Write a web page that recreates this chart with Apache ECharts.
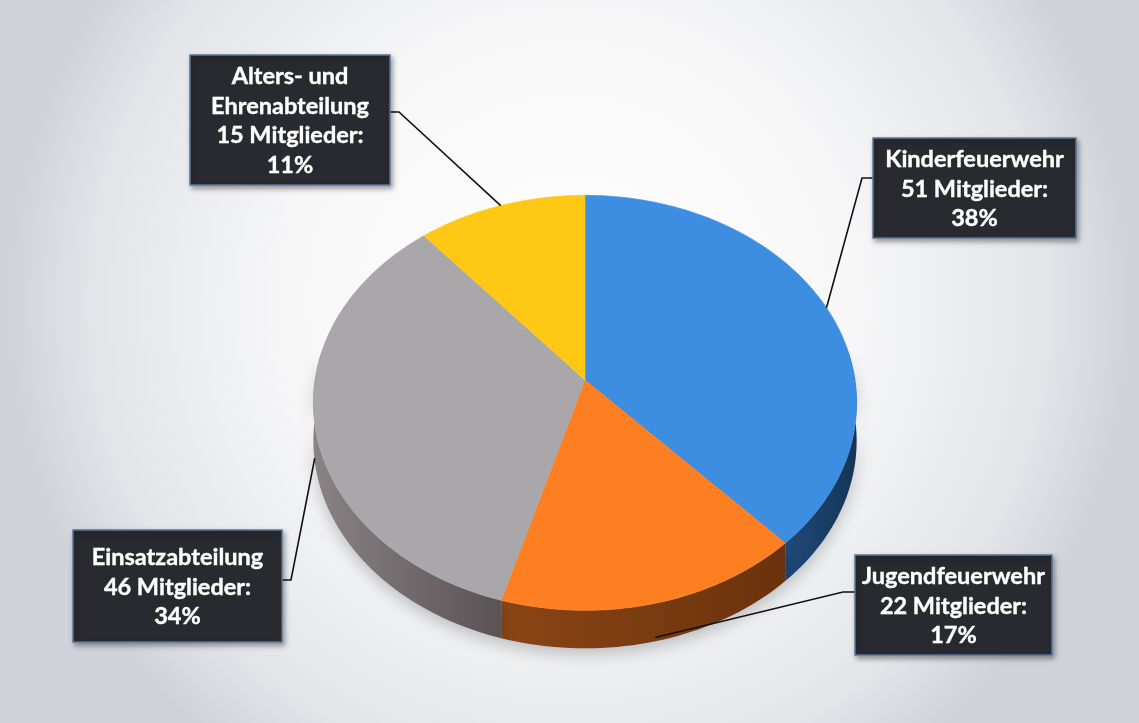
<!DOCTYPE html>
<html lang="de">
<head>
<meta charset="utf-8">
<title>Mitglieder nach Abteilung</title>
<script src="https://cdn.jsdelivr.net/npm/echarts@6/dist/echarts.min.js"></script>
<style>
  html, body { margin: 0; padding: 0; }
  #chart { width: 1139px; height: 723px; }
</style>
</head>
<body>
<div id="chart"></div>
<script>
// Abteilungen (clockwise from 12 o'clock)
const categories = ['Kinderfeuerwehr', 'Jugendfeuerwehr', 'Einsatzabteilung', 'Alters- und\nEhrenabteilung'];
const members = [51, 22, 46, 15];
const shareLabels = ['38%', '17%', '34%', '11%'];

// Palette: top faces and darker side walls
const topColors = ['#3d8ee0', '#fd7f21', '#a9a7a9', '#fec815'];
const sideColors = [['#20497a', '#143556'], ['#8a4515', '#6a320c'], ['#8a8385', '#5a5254'], ['#b08a0c', '#8a6a06']];

// Tilted disc geometry
const CX = 585, CY = 380, RX = 270, RY = 205, P = 0.11, DEPTH = 38;
const START = -90;
const total = members.reduce((a, b) => a + b, 0);
const starts = [];
members.reduce((acc, v, i) => { starts[i] = acc; return acc + v; }, 0);

function angles(i) {
  const a1 = START + 360 * starts[i] / total;
  const a2 = a1 + 360 * members[i] / total;
  return [a1, a2];
}

// Project a point of the unit disc (angle in degrees, radius 0..1) with mild perspective
function proj(deg, r, dy) {
  const t = deg * Math.PI / 180;
  const u = r * Math.cos(t), v = r * Math.sin(t);
  const d = 1 - P * v;
  return [CX + RX * u / d, CY + RY * v / d + (dy || 0)];
}

function arc(a1, a2, dy) {
  const pts = [];
  const n = Math.max(2, Math.ceil(Math.abs(a2 - a1) / 1.5));
  for (let k = 0; k <= n; k++) pts.push(proj(a1 + (a2 - a1) * k / n, 1, dy));
  return pts;
}

// Label boxes and leader-line elbows
const labelLayout = [
  { box: [873, 138, 203, 100], elbow: [862, 178], join: [873, 178] },
  { box: [855, 555, 197, 100], elbow: [843, 592], join: [855, 592] },
  { box: [73, 530, 209, 112], elbow: [291, 580], join: [282, 580] },
  { box: [190, 55, 200, 130], elbow: [399, 112], join: [390, 112] }
];

const seriesData = members.map((v, i) => ({ name: categories[i], value: v }));

// Side walls: only the front-facing part of the rim
function renderSide(params, api) {
  const i = params.dataIndex;
  const [a1, a2] = angles(i);
  const parts = [];
  [[Math.max(a1, -8), Math.min(a2, 188)], [Math.max(a1, 352) - 360, Math.min(a2, 548) - 360]].forEach(([s, e]) => {
    if (e <= s) return;
    const top = arc(s, e, 0);
    const bottom = arc(s, e, DEPTH).reverse();
    parts.push({
      type: 'polygon',
      shape: { points: top.concat(bottom) },
      style: {
        fill: new echarts.graphic.LinearGradient(0, 0, 1, 0, [
          { offset: 0, color: sideColors[i][0] },
          { offset: 1, color: sideColors[i][1] }
        ]),
        shadowBlur: 16,
        shadowOffsetY: 6,
        shadowColor: 'rgba(0,0,0,0.22)'
      }
    });
  });
  return { type: 'group', children: parts };
}

function renderTop(params, api) {
  const i = params.dataIndex;
  const [a1, a2] = angles(i);
  const pts = [[CX, CY]].concat(arc(a1, a2, 0));
  return {
    type: 'polygon',
    shape: { points: pts },
    style: { fill: topColors[i], stroke: topColors[i], lineWidth: 0.6 }
  };
}

function renderLabel(params, api) {
  const i = params.dataIndex;
  const [a1, a2] = angles(i);
  const mid = (a1 + a2) / 2;
  const front = Math.sin(mid * Math.PI / 180) > 0;
  const anchor = proj(mid, 1, front ? DEPTH * 0.9 : 0);
  const L = labelLayout[i];
  const [bx, by, bw, bh] = L.box;
  const text = categories[i] + '\n' + api.value(0) + ' Mitglieder:\n' + shareLabels[i];
  return {
    type: 'group',
    children: [
      {
        type: 'polyline',
        shape: { points: [anchor, L.elbow, L.join] },
        style: { stroke: '#111', lineWidth: 1.6, fill: null }
      },
      {
        type: 'rect',
        shape: { x: bx, y: by, width: bw, height: bh },
        style: {
          fill: '#292a2f', stroke: '#56789f', lineWidth: 1.5,
          shadowBlur: 5, shadowOffsetX: 2, shadowOffsetY: 3, shadowColor: 'rgba(0,0,0,0.35)'
        }
      },
      {
        type: 'text',
        x: bx + bw / 2,
        y: by + bh / 2 + 1,
        style: {
          text: text,
          fill: '#ffffff',
          stroke: '#ffffff',
          lineWidth: 0.4,
          font: 'bold 23.5px Lato, "Open Sans", sans-serif',
          align: 'center',
          verticalAlign: 'middle',
          lineHeight: 29.5
        }
      }
    ]
  };
}

const chart = echarts.init(document.getElementById('chart'), null, { renderer: 'canvas' });
chart.setOption({
  animation: false,
  backgroundColor: {
    type: 'radial', x: 0.5, y: 0.42, r: 0.78,
    colorStops: [
      { offset: 0, color: '#ffffff' },
      { offset: 0.5, color: '#f7f7f8' },
      { offset: 0.85, color: '#e2e4e8' },
      { offset: 1, color: '#cfd2d8' }
    ]
  },
  series: [
    { type: 'custom', coordinateSystem: 'none', z: 1, data: seriesData, renderItem: renderSide, silent: true },
    { type: 'custom', coordinateSystem: 'none', z: 2, data: seriesData, renderItem: renderTop, silent: true },
    { type: 'custom', coordinateSystem: 'none', z: 3, data: seriesData, renderItem: renderLabel, silent: true }
  ]
});
</script>
</body>
</html>
